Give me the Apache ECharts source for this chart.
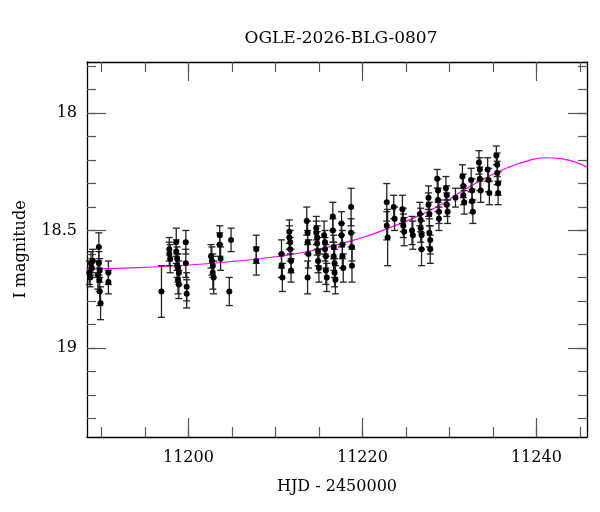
<!DOCTYPE html>
<html>
<head>
<meta charset="utf-8">
<script src="https://cdn.jsdelivr.net/npm/echarts@6/dist/echarts.min.js"></script>
<style>
html, body { margin: 0; padding: 0; background: #fff; }
#chart { width: 600px; height: 512px; }
</style>
</head>
<body>
<div id="chart"></div>
<script>
// photometry: HJD - 2450000, I magnitude, error
var hjd = [
  11188.6, 11188.7, 11188.8, 11188.9, 11189.0, 11189.6, 11189.7, 11189.7, 11189.75, 11189.8, 11189.8, 11189.9, 11190.8, 11190.8,
  11196.9, 11197.8, 11197.8, 11197.9, 11198.6, 11198.6, 11198.7, 11198.7, 11198.8, 11198.8, 11198.9, 11198.9,
  11199.7, 11199.7, 11199.8, 11199.8, 11202.6, 11202.7, 11202.8, 11202.8, 11202.9, 11203.6, 11203.6, 11203.7,
  11204.9, 11204.7, 11207.8, 11207.8,
  11210.7, 11210.7, 11210.8, 11211.6, 11211.6, 11211.7, 11211.7, 11211.8, 11211.8,
  11213.6, 11213.7, 11213.7, 11213.8, 11213.7, 11214.7, 11214.7, 11214.8, 11214.8, 11214.9, 11214.9, 11215.0,
  11215.6, 11215.7, 11215.7, 11215.8, 11215.8, 11215.9, 11216.6, 11216.6, 11216.7, 11216.7, 11216.8, 11216.8, 11216.9,
  11217.6, 11217.6, 11217.7, 11217.7, 11217.8, 11218.7, 11218.7, 11218.8, 11218.8,
  11222.8, 11222.8, 11222.9, 11223.6, 11223.7, 11224.6, 11224.7, 11224.7, 11224.8, 11225.7, 11225.8,
  11226.6, 11226.7, 11226.7, 11226.8, 11226.8, 11227.6, 11227.6, 11227.7, 11227.7, 11227.8, 11227.8,
  11228.6, 11228.7, 11228.7, 11228.8, 11228.8, 11229.6, 11229.7, 11229.7, 11229.8, 11230.7,
  11231.5, 11231.6, 11231.6, 11231.7, 11232.5, 11232.6, 11232.6, 11232.7,
  11233.4, 11233.5, 11233.5, 11233.6, 11234.4, 11234.5, 11234.6,
  11235.4, 11235.5, 11235.5, 11235.6, 11235.6
];
var mag = [
  18.68, 18.70, 18.64, 18.66, 18.63, 18.69, 18.57, 18.64, 18.71, 18.67, 18.76, 18.81, 18.68, 18.72,
  18.76, 18.58, 18.60, 18.62, 18.55, 18.59, 18.62, 18.65, 18.66, 18.71, 18.73, 18.68,
  18.55, 18.64, 18.74, 18.77, 18.61, 18.63, 18.65, 18.68, 18.70, 18.52, 18.56, 18.62,
  18.54, 18.76, 18.58, 18.63,
  18.60, 18.65, 18.70, 18.505, 18.53, 18.55, 18.58, 18.63, 18.67,
  18.46, 18.51, 18.55, 18.60, 18.70, 18.49, 18.51, 18.53, 18.555, 18.59, 18.63, 18.66,
  18.52, 18.55, 18.58, 18.61, 18.67, 18.70, 18.44, 18.50, 18.57, 18.61, 18.64, 18.68, 18.71,
  18.47, 18.52, 18.56, 18.61, 18.66, 18.40, 18.51, 18.57, 18.65,
  18.38, 18.48, 18.53, 18.40, 18.45, 18.41, 18.455, 18.48, 18.505, 18.50, 18.52,
  18.43, 18.455, 18.49, 18.52, 18.58, 18.36, 18.39, 18.43, 18.51, 18.54, 18.58,
  18.28, 18.33, 18.37, 18.42, 18.45, 18.32, 18.35, 18.39, 18.42, 18.36,
  18.27, 18.31, 18.35, 18.38, 18.285, 18.33, 18.375, 18.42,
  18.21, 18.24, 18.28, 18.33, 18.24, 18.285, 18.34,
  18.18, 18.22, 18.255, 18.30, 18.34
];
var err = [
  0.05, 0.04, 0.05, 0.04, 0.05, 0.06, 0.06, 0.05, 0.05, 0.05, 0.06, 0.07, 0.05, 0.05,
  0.11, 0.05, 0.05, 0.06, 0.06, 0.05, 0.05, 0.05, 0.06, 0.06, 0.06, 0.05,
  0.05, 0.06, 0.06, 0.06, 0.05, 0.06, 0.05, 0.07, 0.07, 0.04, 0.05, 0.05,
  0.05, 0.06, 0.06, 0.06,
  0.06, 0.05, 0.06, 0.05, 0.05, 0.05, 0.05, 0.05, 0.05,
  0.06, 0.05, 0.05, 0.06, 0.07, 0.05, 0.05, 0.05, 0.05, 0.06, 0.05, 0.06,
  0.06, 0.05, 0.05, 0.05, 0.06, 0.06, 0.06, 0.05, 0.05, 0.06, 0.06, 0.06, 0.06,
  0.05, 0.05, 0.06, 0.05, 0.06, 0.08, 0.06, 0.06, 0.07,
  0.08, 0.06, 0.12, 0.05, 0.05, 0.06, 0.05, 0.05, 0.06, 0.06, 0.06,
  0.05, 0.05, 0.06, 0.06, 0.07, 0.05, 0.05, 0.05, 0.06, 0.06, 0.06,
  0.04, 0.05, 0.05, 0.05, 0.05, 0.05, 0.04, 0.05, 0.05, 0.04,
  0.05, 0.05, 0.04, 0.05, 0.05, 0.05, 0.05, 0.05,
  0.05, 0.05, 0.05, 0.05, 0.05, 0.05, 0.05,
  0.04, 0.05, 0.05, 0.05, 0.05
];

// model curve
var modelHjd = [11188.3, 11195, 11200, 11205, 11210, 11215, 11220, 11223, 11226, 11229, 11232, 11235, 11237, 11239, 11241, 11243, 11245.8];
var modelMag = [18.665, 18.657, 18.647, 18.632, 18.612, 18.58, 18.53, 18.49, 18.445, 18.39, 18.32, 18.26, 18.228, 18.203, 18.19, 18.195, 18.23];

var xMajor = [11200, 11220, 11240];
var xMinor = [11190, 11195, 11200, 11205, 11210, 11215, 11220, 11225, 11230, 11235, 11240, 11245];
var yMajor = [18, 18.5, 19];
var yMinor = [17.8, 17.9, 18, 18.1, 18.2, 18.3, 18.4, 18.5, 18.6, 18.7, 18.8, 18.9, 19, 19.1, 19.2, 19.3];

var xMin = 11188.34, xMax = 11245.82;
var yMin = 17.782, yMax = 19.38;

var FONT = 'DejaVu Serif';
var chart = echarts.init(document.getElementById('chart'));

function xAxisDef(pos, ticks, len, labels, line) {
  return {
    type: 'value', position: pos, min: xMin, max: xMax,
    name: labels ? 'HJD - 2450000' : '',
    nameLocation: 'middle', nameGap: 42,
    nameTextStyle: { fontFamily: FONT, fontSize: 16, color: '#000' },
    axisLine: { show: line, lineStyle: { color: '#000', width: 1.3 } },
    axisTick: { show: true, inside: true, length: len, customValues: ticks, lineStyle: { color: '#555', width: 1.2 } },
    axisLabel: { show: labels, customValues: ticks, margin: 13, fontFamily: FONT, fontSize: 16, color: '#000',
      formatter: function (v) { return String(v); } },
    splitLine: { show: false }
  };
}
function yAxisDef(pos, ticks, len, labels, line) {
  return {
    type: 'value', position: pos, min: yMin, max: yMax, inverse: true,
    name: labels ? 'I magnitude' : '',
    nameLocation: 'middle', nameGap: 58, nameRotate: 90,
    nameTextStyle: { fontFamily: FONT, fontSize: 16, color: '#000' },
    axisLine: { show: line, lineStyle: { color: '#000', width: 1.3 } },
    axisTick: { show: true, inside: true, length: len, customValues: ticks, lineStyle: { color: '#555', width: 1.2 } },
    axisLabel: { show: labels, customValues: ticks, margin: 10, fontFamily: FONT, fontSize: 16, color: '#000',
      formatter: function (v) { return String(v); } },
    splitLine: { show: false }
  };
}

var errData = hjd.map(function (t, i) { return [t, mag[i] - err[i], mag[i] + err[i]]; });
var ptData = hjd.map(function (t, i) { return [t, mag[i]]; });
var modelData = modelHjd.map(function (t, i) { return [t, modelMag[i]]; });

function renderErr(params, api) {
  var x = api.value(0);
  var a = api.coord([x, api.value(1)]);
  var b = api.coord([x, api.value(2)]);
  var cap = 3.5;
  var st = { stroke: '#222', lineWidth: 1.3 };
  return {
    type: 'group',
    children: [
      { type: 'line', shape: { x1: a[0], y1: a[1], x2: b[0], y2: b[1] }, style: st },
      { type: 'line', shape: { x1: a[0] - cap, y1: a[1], x2: a[0] + cap, y2: a[1] }, style: st },
      { type: 'line', shape: { x1: b[0] - cap, y1: b[1], x2: b[0] + cap, y2: b[1] }, style: st }
    ]
  };
}

var option = {
  animation: false,
  title: {
    text: 'OGLE-2026-BLG-0807', left: 336, textAlign: 'center', top: 25,
    textStyle: { fontFamily: FONT, fontSize: 17, fontWeight: 'normal', color: '#000' }
  },
  grid: { left: 87, right: 13, top: 62, bottom: 75 },
  xAxis: [
    xAxisDef('bottom', xMajor, 19, true, true),
    xAxisDef('bottom', xMinor, 10, false, false),
    xAxisDef('top', xMajor, 19, false, true),
    xAxisDef('top', xMinor, 10, false, false)
  ],
  yAxis: [
    yAxisDef('left', yMajor, 19, true, true),
    yAxisDef('left', yMinor, 9, false, false),
    yAxisDef('right', yMajor, 19, false, true),
    yAxisDef('right', yMinor, 9, false, false)
  ],
  series: [
    {
      type: 'line', data: modelData, smooth: true, showSymbol: false, symbol: 'none',
      lineStyle: { color: '#ff00ff', width: 1.2 }, z: 1
    },
    {
      type: 'custom', data: errData, renderItem: renderErr,
      encode: { x: 0, y: [1, 2] }, z: 2
    },
    {
      type: 'scatter', data: ptData, symbolSize: 6,
      itemStyle: { color: '#000', opacity: 1 }, z: 3
    }
  ]
};
chart.setOption(option);
</script>
</body>
</html>
